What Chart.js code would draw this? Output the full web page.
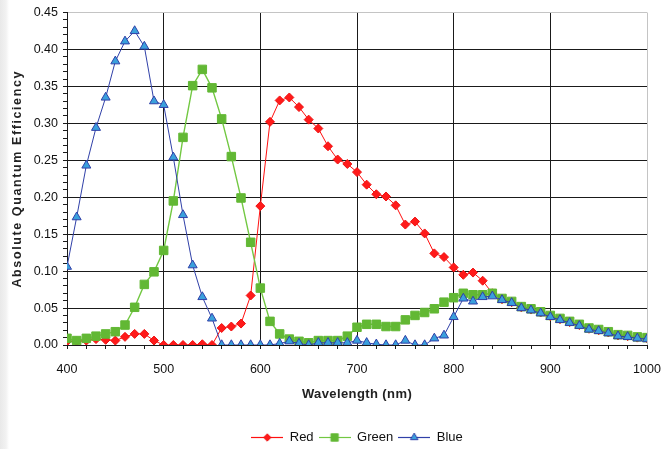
<!DOCTYPE html>
<html><head><meta charset="utf-8">
<script src="https://cdn.jsdelivr.net/npm/chart.js@4.4.1/dist/chart.umd.min.js"></script>
<style>
html,body{margin:0;padding:0;}
body{width:661px;height:449px;overflow:hidden;background:linear-gradient(to right,#e9e9e9 0,#f2f2f2 6px,#ffffff 9px);}
#wrap{position:relative;width:661px;height:449px;}
</style></head><body>
<div id="wrap"><canvas id="c" width="661" height="449"></canvas></div>
<script>
const wavelengths = [390,400,410,420,430,440,450,460,470,480,490,500,510,520,530,540,550,560,570,580,590,600,610,620,630,640,650,660,670,680,690,700,710,720,730,740,750,760,770,780,790,800,810,820,830,840,850,860,870,880,890,900,910,920,930,940,950,960,970,980,990,1000];
const redValues = [null,0.005,0.005,0.006,0.008,0.007,0.006,0.011,0.015,0.015,0.006,0.000,0.000,0.000,0.000,0.001,0.000,0.023,0.025,0.029,0.067,0.188,0.302,0.331,0.335,0.322,0.305,0.293,0.269,0.251,0.245,0.234,0.217,0.204,0.201,0.189,0.163,0.167,0.151,0.124,0.119,0.105,0.095,0.098,0.087,0.070,0.062,0.058,0.051,0.048,0.044,0.039,0.035,0.031,0.027,0.022,0.020,0.017,0.013,0.012,0.010,0.009];
const greenValues = [null,0.009,0.006,0.009,0.012,0.015,0.018,0.027,0.051,0.082,0.099,0.128,0.195,0.281,0.351,0.373,0.348,0.306,0.255,0.199,0.139,0.077,0.032,0.015,0.008,0.005,0.003,0.006,0.006,0.006,0.012,0.024,0.028,0.028,0.025,0.025,0.034,0.040,0.044,0.049,0.058,0.064,0.070,0.068,0.068,0.070,0.063,0.059,0.052,0.049,0.045,0.040,0.036,0.032,0.028,0.023,0.021,0.018,0.014,0.013,0.011,0.010];
const blueValues = [0.000,0.106,0.173,0.243,0.294,0.335,0.384,0.411,0.425,0.404,0.330,0.325,0.254,0.176,0.108,0.065,0.036,0.000,0.000,0.000,0.000,0.000,0.000,0.002,0.005,0.002,0.000,0.003,0.003,0.003,0.003,0.006,0.003,0.001,0.000,0.000,0.006,0.000,0.000,0.009,0.013,0.038,0.063,0.059,0.065,0.066,0.061,0.057,0.050,0.047,0.043,0.038,0.034,0.030,0.026,0.021,0.019,0.016,0.012,0.011,0.009,0.008];
const seriesNames = ['Red','Green','Blue'];
const xMajorTicks = [400,500,600,700,800,900,1000];
const yMajorTicks = [0,0.05,0.10,0.15,0.20,0.25,0.30,0.35,0.40,0.45];

const FONT = "'Liberation Sans', Arial, sans-serif";
const isMajor = (list, v) => list.some(t => Math.abs(t - v) < 1e-6);
const toXY = vals => wavelengths.map((w, i) => ({x: w, y: vals[i]}));

const styles = [
  {line:'#ff1010', fill:'#ff1a1a', stroke:'#ee1111', shape:'rectRot', r:4.5, lw:1, order:3},
  {line:'#72c842', fill:'#62b834', stroke:'#62b834', shape:'rect', r:6, lw:1.4, order:2},
  {line:'#3040a8', fill:'#3aa0dc', stroke:'#3040a8', shape:'triangle', r:5.2, lw:1, order:1}
];
const seriesData = [redValues, greenValues, blueValues];

function legendIcon(st){
  const cv = document.createElement('canvas');
  cv.width = 32; cv.height = 12;
  const g = cv.getContext('2d');
  g.strokeStyle = st.line; g.lineWidth = 1.2;
  g.beginPath(); g.moveTo(0, 6.5); g.lineTo(32, 6.5); g.stroke();
  g.fillStyle = st.fill; g.strokeStyle = st.stroke; g.lineWidth = 1;
  Chart.helpers.drawPoint(g, {pointStyle: st.shape, radius: st.r - 0.8, rotation: 0, borderWidth: 1}, 16, 6.5);
  return cv;
}

function spacedTitle(spacing){
  return s => {
    if (s._spacedTitle) return;
    const orig = s.drawTitle.bind(s);
    s.drawTitle = function(){
      const ctx = this.ctx;
      const prev = ctx.letterSpacing;
      ctx.letterSpacing = spacing;
      orig();
      ctx.letterSpacing = prev || '0px';
    };
    s._spacedTitle = true;
  };
}

const datasets = seriesNames.map((name, i) => ({
  label: name,
  data: toXY(seriesData[i]),
  borderColor: styles[i].line,
  borderWidth: styles[i].lw,
  pointStyle: styles[i].shape,
  pointRadius: styles[i].r,
  pointBackgroundColor: styles[i].fill,
  pointBorderColor: styles[i].stroke,
  pointBorderWidth: 1,
  tension: 0,
  spanGaps: false,
  order: styles[i].order
}));

const LEGEND_PAD = 5;
const centerLegend = {
  id: 'centerLegend',
  afterLayout(chart){
    const lg = chart.legend, ca = chart.chartArea;
    if (!lg || !ca) return;
    const shift = (ca.left + ca.right) / 2 - (lg.left + lg.right) / 2;
    lg.left += shift; lg.right += shift;
    const vshift = 437 - (lg.top + LEGEND_PAD + 6.5);
    lg.top += vshift; lg.bottom += vshift;
  }
};

new Chart(document.getElementById('c'), {
  type: 'line',
  data: {datasets},
  plugins: [centerLegend],
  options: {
    responsive: false,
    animation: false,
    devicePixelRatio: 1,
    layout: {padding: {left: 0, right: 14, top: 12, bottom: 0}},
    plugins: {
      tooltip: {enabled: false},
      legend: {
        position: 'bottom',
        labels: {
          usePointStyle: true,
          pointStyleWidth: 32,
          padding: LEGEND_PAD,
          color: '#111',
          font: {family: FONT, size: 13},
          generateLabels: chart => chart.data.datasets.map((ds, i) => ({
            text: ds.label, pointStyle: legendIcon(styles[i]),
            fillStyle: styles[i].fill, strokeStyle: styles[i].line,
            lineWidth: 0, hidden: false, datasetIndex: i, fontColor: '#111'
          }))
        }
      }
    },
    scales: {
      x: {
        type: 'linear', min: 400, max: 1000,
        afterFit: s => { s.height = 76; s.paddingLeft = 0; s.paddingRight = 0; },
        afterUpdate: spacedTitle('0.4px'),
        ticks: {
          stepSize: 20, autoSkip: false, maxRotation: 0, padding: 13,
          color: '#111', font: {family: FONT, size: 12.5},
          callback: v => isMajor(xMajorTicks, v) ? String(v) : ''
        },
        grid: {
          color: c => isMajor(xMajorTicks, c.tick.value) ? (c.tick.value === 1000 ? '#c4c4c4' : '#1a1a1a') : 'rgba(0,0,0,0)',
          tickColor: '#1a1a1a', tickLength: 4, lineWidth: 1
        },
        border: {color: '#1a1a1a', width: 1},
        title: {display: true, text: 'Wavelength (nm)', color: '#222',
          font: {family: FONT, size: 13, weight: 'bold'}, padding: {top: 0, bottom: 19}}
      },
      y: {
        min: 0, max: 0.45,
        afterFit: s => { s.width = 67; },
        afterUpdate: spacedTitle('1.6px'),
        ticks: {
          stepSize: 0.01, autoSkip: false, padding: 5,
          color: '#111', font: {family: FONT, size: 12.5},
          callback: v => isMajor(yMajorTicks, v) ? v.toFixed(2) : ''
        },
        grid: {
          color: c => isMajor(yMajorTicks, c.tick.value) ? (Math.abs(c.tick.value - 0.45) < 1e-6 ? '#c4c4c4' : '#1a1a1a') : 'rgba(0,0,0,0)',
          tickColor: '#1a1a1a', tickLength: 4, lineWidth: 1
        },
        border: {color: '#1a1a1a', width: 1},
        title: {display: true, text: 'Absolute Quantum Efficiency', color: '#222',
          font: {family: FONT, size: 12.5, weight: 'bold'}, padding: {top: 10, bottom: 0}}
      }
    }
  }
});
</script>
</body></html>
